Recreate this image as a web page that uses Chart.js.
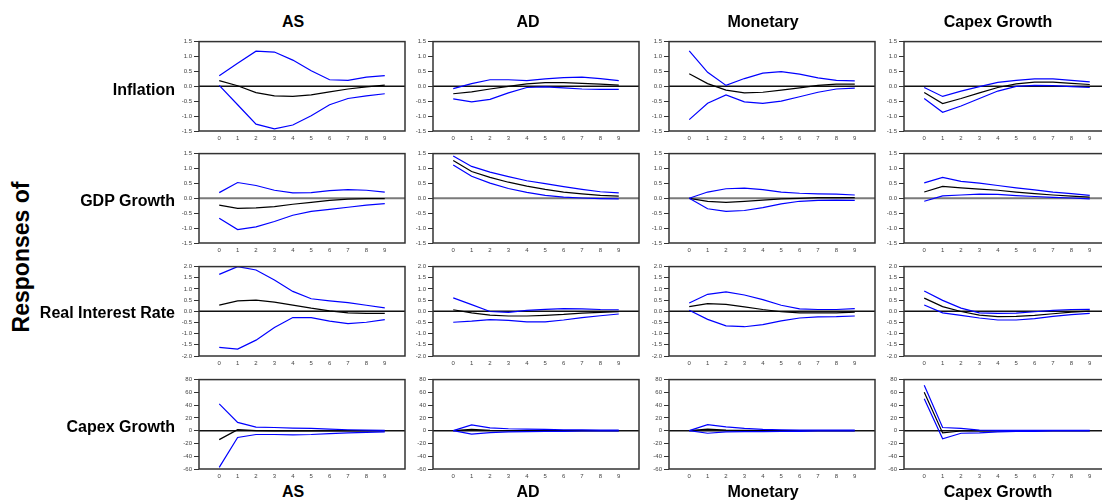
<!DOCTYPE html>
<html>
<head>
<meta charset="utf-8">
<script src="https://cdn.jsdelivr.net/npm/chart.js@4/dist/chart.umd.min.js"></script>
<style>
  body { margin: 0; background: #fff; width: 1102px; height: 500px; overflow: hidden; position: relative; font-family: "Liberation Sans", Arial, sans-serif; }
  .panel { position: absolute; }
  .lbl { position: absolute; font-weight: bold; color: #000; white-space: nowrap; font-size: 16px; }
  .coltitle { transform: translate(-50%, -50%); }
  .rowtitle { transform: translate(-100%, -50%); }
  #resp { position: absolute; left: 21px; top: 257px; transform: translate(-50%, -50%) rotate(-90deg); font-size: 23px; font-weight: bold; white-space: nowrap; }
</style>
</head>
<body>
<div id="resp">Responses of</div>
<script>
// horizons and labels
const horizons = [0, 1, 2, 3, 4, 5, 6, 7, 8, 9];
const shocks = ['AS', 'AD', 'Monetary', 'Capex Growth'];
const responses = ['Inflation', 'GDP Growth', 'Real Interest Rate', 'Capex Growth'];

// y tick labels for each row
const ticksInflation = [-1.5, -1.0, -0.5, 0.0, 0.5, 1.0, 1.5];
const ticksGdp = [-1.5, -1.0, -0.5, 0.0, 0.5, 1.0, 1.5];
const ticksRate = [-2.0, -1.5, -1.0, -0.5, 0.0, 0.5, 1.0, 1.5, 2.0];
const ticksCapex = [-60, -40, -20, 0, 20, 40, 60, 80];

// Inflation responses (one array per shock: AS, AD, Monetary, Capex)
const inflationMid = [
  [0.19, 0.02, -0.21, -0.32, -0.34, -0.29, -0.19, -0.09, -0.02, 0.04],
  [-0.25, -0.19, -0.09, 0.0, 0.08, 0.12, 0.12, 0.10, 0.07, 0.04],
  [0.42, 0.09, -0.13, -0.22, -0.20, -0.13, -0.05, 0.03, 0.07, 0.07],
  [-0.21, -0.58, -0.41, -0.22, -0.04, 0.08, 0.14, 0.14, 0.10, 0.06]
];
const inflationUp = [
  [0.35, 0.77, 1.18, 1.15, 0.88, 0.52, 0.22, 0.20, 0.31, 0.36],
  [-0.08, 0.09, 0.22, 0.22, 0.19, 0.25, 0.29, 0.31, 0.26, 0.19],
  [1.19, 0.47, 0.03, 0.26, 0.44, 0.49, 0.41, 0.28, 0.20, 0.18],
  [-0.04, -0.34, -0.16, -0.01, 0.13, 0.20, 0.25, 0.25, 0.20, 0.15]
];
const inflationLow = [
  [0.03, -0.62, -1.27, -1.43, -1.30, -0.99, -0.62, -0.41, -0.32, -0.25],
  [-0.42, -0.52, -0.44, -0.22, -0.04, -0.02, -0.05, -0.09, -0.10, -0.10],
  [-1.12, -0.57, -0.29, -0.52, -0.57, -0.50, -0.35, -0.20, -0.09, -0.06],
  [-0.41, -0.87, -0.66, -0.41, -0.16, 0.0, 0.03, 0.02, -0.01, -0.04]
];

// GDP growth responses
const gdpMid = [
  [-0.23, -0.34, -0.32, -0.28, -0.20, -0.14, -0.07, -0.03, -0.01, -0.01],
  [1.27, 0.90, 0.70, 0.54, 0.41, 0.30, 0.21, 0.15, 0.10, 0.07],
  [0.0, -0.10, -0.14, -0.10, -0.06, -0.02, 0.0, 0.02, 0.02, 0.02],
  [0.21, 0.40, 0.35, 0.31, 0.27, 0.21, 0.16, 0.11, 0.07, 0.04]
];
const gdpUp = [
  [0.19, 0.53, 0.43, 0.27, 0.18, 0.19, 0.26, 0.29, 0.27, 0.21],
  [1.42, 1.07, 0.88, 0.73, 0.59, 0.49, 0.39, 0.30, 0.22, 0.18],
  [0.0, 0.21, 0.32, 0.34, 0.29, 0.21, 0.17, 0.15, 0.14, 0.11],
  [0.52, 0.70, 0.57, 0.51, 0.43, 0.35, 0.28, 0.21, 0.16, 0.10]
];
const gdpLow = [
  [-0.67, -1.05, -0.96, -0.78, -0.57, -0.44, -0.37, -0.30, -0.23, -0.18],
  [1.12, 0.74, 0.51, 0.33, 0.20, 0.10, 0.04, 0.01, -0.01, -0.02],
  [0.0, -0.35, -0.44, -0.41, -0.31, -0.19, -0.10, -0.07, -0.06, -0.07],
  [-0.10, 0.08, 0.11, 0.14, 0.13, 0.09, 0.06, 0.03, 0.01, -0.02]
];

// Real interest rate responses
const rateMid = [
  [0.28, 0.47, 0.50, 0.41, 0.28, 0.14, 0.02, -0.07, -0.09, -0.09],
  [0.07, -0.07, -0.17, -0.21, -0.21, -0.18, -0.14, -0.08, -0.05, -0.02],
  [0.21, 0.34, 0.31, 0.20, 0.08, -0.02, -0.07, -0.07, -0.07, -0.04],
  [0.59, 0.21, -0.01, -0.17, -0.24, -0.23, -0.18, -0.11, -0.04, 0.01]
];
const rateUp = [
  [1.65, 2.0, 1.85, 1.40, 0.89, 0.56, 0.47, 0.39, 0.27, 0.15],
  [0.60, 0.30, -0.01, -0.05, 0.04, 0.09, 0.12, 0.11, 0.08, 0.07],
  [0.37, 0.76, 0.87, 0.73, 0.52, 0.27, 0.11, 0.08, 0.08, 0.12],
  [0.91, 0.49, 0.14, -0.07, -0.09, -0.08, -0.02, 0.04, 0.08, 0.09]
];
const rateLow = [
  [-1.61, -1.69, -1.29, -0.72, -0.28, -0.28, -0.44, -0.55, -0.49, -0.37],
  [-0.49, -0.44, -0.37, -0.41, -0.47, -0.47, -0.39, -0.28, -0.20, -0.12],
  [0.05, -0.36, -0.65, -0.69, -0.60, -0.43, -0.30, -0.25, -0.24, -0.21],
  [0.28, -0.07, -0.18, -0.30, -0.39, -0.39, -0.33, -0.23, -0.15, -0.09]
];

// Capex growth responses
const capexMid = [
  [-14, 1.5, 0, -0.5, -0.5, -0.5, -0.5, -0.5, -0.5, -0.3],
  [0, 2, 0.5, 0, 0, 0, 0, 0, 0, 0],
  [0, 2.5, 1, 0.5, 0, 0, 0, 0, 0, 0],
  [60, -3.5, -0.5, -0.5, -0.3, 0, 0, 0, 0, 0]
];
const capexUp = [
  [42, 13, 5.6, 5, 4, 3.5, 2.5, 1.5, 1, 0.5],
  [0, 9, 4.5, 3, 2.5, 2, 1.5, 1.5, 1, 1],
  [0, 9.5, 6, 3.5, 2, 1.5, 1, 0.8, 0.8, 0.8],
  [71, 5, 3.5, 1, 0.5, 0.5, 0.5, 0.5, 0.5, 0.5]
];
const capexLow = [
  [-57.5, -10.7, -6, -6, -6.6, -6, -4.6, -3.5, -2.5, -2],
  [0, -5.5, -3, -2, -1.5, -1, -1, -0.5, -0.5, -0.5],
  [0, -4, -2, -1.5, -1.5, -1, -1, -0.5, -0.5, -0.5],
  [50, -12.7, -4, -3.5, -2, -1, -1, -0.5, -0.5, -0.5]
];

const rowMid = [inflationMid, gdpMid, rateMid, capexMid];
const rowUp = [inflationUp, gdpUp, rateUp, capexUp];
const rowLow = [inflationLow, gdpLow, rateLow, capexLow];
const rowTicks = [ticksInflation, ticksGdp, ticksRate, ticksCapex];

// panel geometry (plot area)
const colLeft = [199, 433, 669, 904];
const rowTop = [39, 151, 264, 377];
const plotW = 206, plotH = 92;
const padL = 30, padT = 3, padR = 3, padB = 14;

// frame + zero line plugin
const framePlugin = {
  id: 'frame',
  beforeDatasetsDraw(chart) {
    const a = chart.chartArea, ctx = chart.ctx;
    const y0 = chart.scales.y.getPixelForValue(0);
    const grey = chart.options.zeroGrey;
    ctx.save();
    ctx.strokeStyle = grey ? '#7a7a7a' : '#111';
    ctx.lineWidth = grey ? 2 : 1.4;
    ctx.beginPath();
    ctx.moveTo(a.left, y0);
    ctx.lineTo(a.right, y0);
    ctx.stroke();
    ctx.restore();
  },
  afterDraw(chart) {
    const a = chart.chartArea, ctx = chart.ctx;
    ctx.save();
    ctx.strokeStyle = '#333';
    ctx.lineWidth = 1.5;
    ctx.strokeRect(a.left, a.top, a.right - a.left, a.bottom - a.top);
    ctx.restore();
  }
};

function pts(arr) {
  return horizons.map((h, i) => ({ x: h, y: arr[i] }));
}

for (let r = 0; r < 4; r++) {
  for (let c = 0; c < 4; c++) {
    const div = document.createElement('div');
    div.className = 'panel';
    const w = plotW + padL + padR, h = plotH + padT + padB;
    div.style.left = (colLeft[c] - padL) + 'px';
    div.style.top = (rowTop[r] - padT) + 'px';
    div.style.width = w + 'px';
    div.style.height = h + 'px';
    const cv = document.createElement('canvas');
    cv.width = w; cv.height = h;
    div.appendChild(cv);
    document.body.appendChild(div);

    const yt = rowTicks[r];
    const isCapex = r === 3;
    const line = (data, color) => ({
      data: pts(data), borderColor: color, borderWidth: 1.2,
      pointRadius: 0, fill: false, tension: 0
    });

    new Chart(cv, {
      type: 'line',
      data: {
        datasets: [
          line(rowUp[r][c], '#0000ff'),
          line(rowLow[r][c], '#0000ff'),
          line(rowMid[r][c], '#000000')
        ]
      },
      options: {
        responsive: false,
        animation: false,
        devicePixelRatio: 1,
        zeroGrey: r === 1,
        layout: { padding: { top: padT, right: padR, left: 0, bottom: 0 } },
        plugins: { legend: { display: false }, tooltip: { enabled: false } },
        scales: {
          x: {
            type: 'linear', min: -1.1, max: 10.1,
            afterBuildTicks: s => { s.ticks = horizons.map(v => ({ value: v })); },
            afterFit: s => { s.height = padB; },
            grid: { display: false, drawTicks: false },
            border: { display: false },
            ticks: { font: { size: 6, family: 'Liberation Sans, Arial' }, color: '#444', padding: 4, maxRotation: 0, autoSkip: false }
          },
          y: {
            min: yt[0], max: yt[yt.length - 1],
            afterBuildTicks: s => { s.ticks = yt.map(v => ({ value: v })); },
            afterFit: s => { s.width = padL; },
            grid: { drawOnChartArea: false, drawTicks: true, tickLength: 5, color: '#333', lineWidth: 1 },
            border: { display: false },
            ticks: {
              font: { size: 6, family: 'Liberation Sans, Arial' }, color: '#444', padding: 2,
              callback: v => isCapex ? String(v) : v.toFixed(1)
            }
          }
        }
      },
      plugins: [framePlugin]
    });
  }
}

// column titles, top and bottom
const titleX = [293, 528, 763, 998];
shocks.forEach((s, i) => {
  [22, 492].forEach(y => {
    const d = document.createElement('div');
    d.className = 'lbl coltitle';
    d.style.left = titleX[i] + 'px';
    d.style.top = y + 'px';
    d.textContent = s;
    document.body.appendChild(d);
  });
});

// row titles
const rowLabelY = [90, 201, 313, 427];
responses.forEach((s, i) => {
  const d = document.createElement('div');
  d.className = 'lbl rowtitle';
  d.style.left = '175px';
  d.style.top = rowLabelY[i] + 'px';
  d.textContent = s;
  document.body.appendChild(d);
});
</script>
</body>
</html>
